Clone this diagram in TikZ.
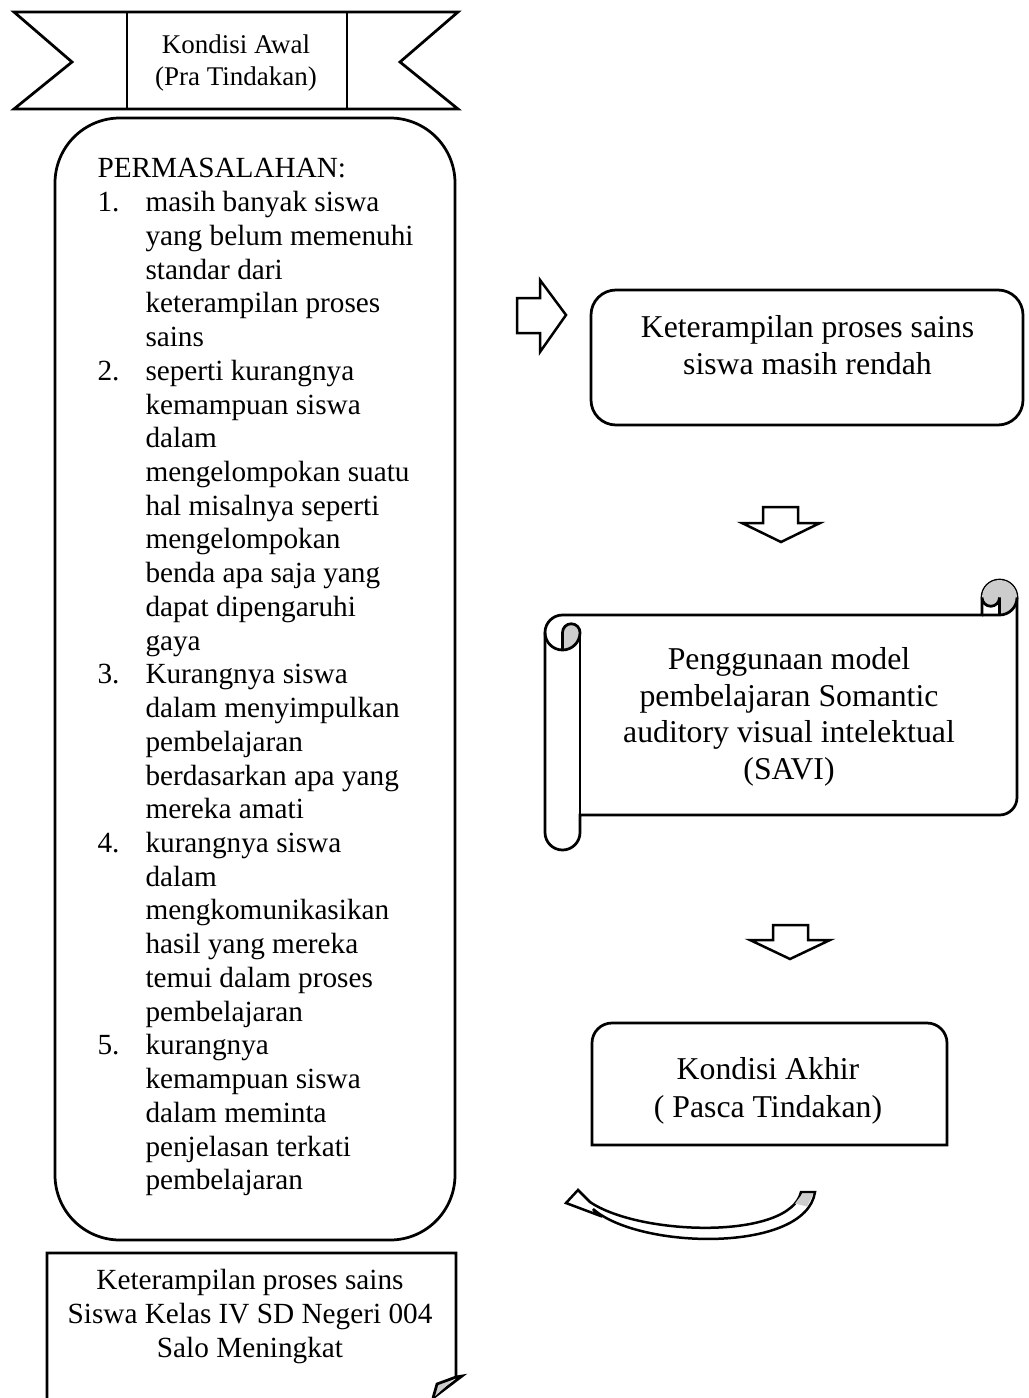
\documentclass[tikz,border=0pt]{standalone}
\usepackage{fontspec}
\setmainfont{Liberation Serif}
\usepackage{tikz}
\definecolor{abumuda}{rgb}{0.80,0.80,0.80}
\newlength{\pxu}
\setlength{\pxu}{0.4pt}
\tikzset{
  garis/.style={
    draw=black,
    line width=1.1pt
  },
  kotak/.style={
    garis,
    fill=white,
    inner sep=0pt
  },
  teksbesar/.style={
    align=center,
    inner sep=0pt,
    font=\fontsize{12.7}{14.6}\selectfont
  },
  tekskecil/.style={
    align=center,
    inner sep=0pt,
    font=\fontsize{11.7}{13.6}\selectfont
  },
  panah/.style={
    draw=black,
    line width=1pt,
    fill=white
  }
}

\begin{document}
\begin{tikzpicture}[x=0.4pt, y=-0.4pt]
\useasboundingbox (0,0) rectangle (1028,1398);
% pita kondisi awal
\draw[garis] (14,12) -- (458,12) -- (400,62) -- (458,109) -- (14,109) -- (72,62) -- cycle;
\draw[garis] (127,12) -- (127,109) (347,12) -- (347,109);
\node[teksbesar, font=\fontsize{10.8}{12.8}\selectfont] (awal) at (236,63) {Kondisi Awal\\(Pra Tindakan)};
% permasalahan
\node[kotak, rounded corners=26pt, minimum width=400\pxu, minimum height=1122\pxu] (masalah) at (255,679) {};
\node[anchor=base west, inner sep=0pt, font=\fontsize{11.7}{13.49}\selectfont] (daftar) at (97,178) {%
\begin{tabular}[t]{@{}p{48\pxu}@{}l@{}}
\multicolumn{2}{@{}l@{}}{PERMASALAHAN:}\\
1. & masih banyak siswa\\
   & yang belum memenuhi\\
   & standar dari\\
   & keterampilan proses\\
   & sains\\
2. & seperti kurangnya\\
   & kemampuan siswa\\
   & dalam\\
   & mengelompokan suatu\\
   & hal misalnya seperti\\
   & mengelompokan\\
   & benda apa saja yang\\
   & dapat dipengaruhi\\
   & gaya\\
3. & Kurangnya siswa\\
   & dalam menyimpulkan\\
   & pembelajaran\\
   & berdasarkan apa yang\\
   & mereka amati\\
4. & kurangnya siswa\\
   & dalam\\
   & mengkomunikasikan\\
   & hasil yang mereka\\
   & temui dalam proses\\
   & pembelajaran\\
5. & kurangnya\\
   & kemampuan siswa\\
   & dalam meminta\\
   & penjelasan terkati\\
   & pembelajaran
\end{tabular}};
% keterampilan rendah
\draw[panah] (517,298) -- (540,298) -- (540,280) -- (566,315) -- (540,352) -- (540,333) -- (517,333) -- cycle;
\node[kotak, rounded corners=10pt, minimum width=432\pxu, minimum height=135\pxu] (rendah) at (807,357.5) {};
\node[teksbesar] (rendahteks) at (807.5,345) {Keterampilan proses sains\\siswa masih rendah};
\draw[panah] (763,507) -- (798,507) -- (798,523) -- (820,523) -- (781,542) -- (742,523) -- (763,523) -- cycle;
% gulungan SAVI
\draw[garis, fill=white] (545,632.5) arc[start angle=180, end angle=270, radius=17.5] -- (982,615) -- (982,597.5)
  arc[start angle=180, end angle=360, radius=17.5] -- (1017,797.5) arc[start angle=0, end angle=90, radius=17.5]
  -- (580,815) -- (580,832.5) arc[start angle=0, end angle=180, radius=17.5] -- cycle;
\fill[abumuda] (562.5,650) arc[start angle=90, end angle=0, radius=17.5] arc[start angle=0, end angle=-180, radius=8.75] -- cycle;
\fill[abumuda] (999.5,615) arc[start angle=90, end angle=-180, radius=17.5] arc[start angle=180, end angle=0, radius=8.75] -- cycle;
\draw[garis] (982,615) -- (999.5,615) arc[start angle=90, end angle=0, radius=17.5];
\draw[garis] (999.5,615) -- (999.5,597.5) arc[start angle=0, end angle=180, radius=8.75];
\draw[garis] (562.5,650) -- (562.5,632.5) arc[start angle=180, end angle=360, radius=8.75] arc[start angle=0, end angle=180, radius=17.5];
\draw[garis] (580,632.5) -- (580,815);
\node[teksbesar] (savi) at (789,717) {Penggunaan model\\pembelajaran Somantic\\auditory visual intelektual\\(SAVI)};
\draw[panah] (773,925) -- (808,925) -- (808,940) -- (830,940) -- (790,959) -- (750,940) -- (773,940) -- cycle;
% kondisi akhir
\draw[kotak] (592,1145) -- (592,1043) arc[start angle=180, end angle=270, radius=20] -- (927,1023)
  arc[start angle=270, end angle=360, radius=20] -- (947,1145) -- cycle;
\node[teksbesar, font=\fontsize{12.7}{15.2}\selectfont] (akhir) at (768,1091) {Kondisi Akhir\\( Pasca Tindakan)};
\draw[panah] (566,1203) -- (578,1190) -- (590,1202)
  .. controls (640,1236) and (790,1240) .. (801,1192) -- (815,1192)
  .. controls (806,1253) and (640,1250) .. (593,1209) -- (598,1215) -- cycle;
\fill[abumuda] (802.5,1193.5) -- (813.5,1193.5) -- (807,1206.5) -- (795,1203.5) -- cycle;
% hasil
\draw[garis] (47,1398) -- (47,1253) -- (456,1253) -- (456,1377) -- (462,1376) -- (433,1398);
\draw[garis, fill=abumuda] (456,1377) -- (437,1384) -- (433,1398);
\node[tekskecil] (hasil) at (250,1316) {Keterampilan proses sains\\Siswa Kelas IV SD Negeri 004\\Salo Meningkat};
\end{tikzpicture}
\end{document}
